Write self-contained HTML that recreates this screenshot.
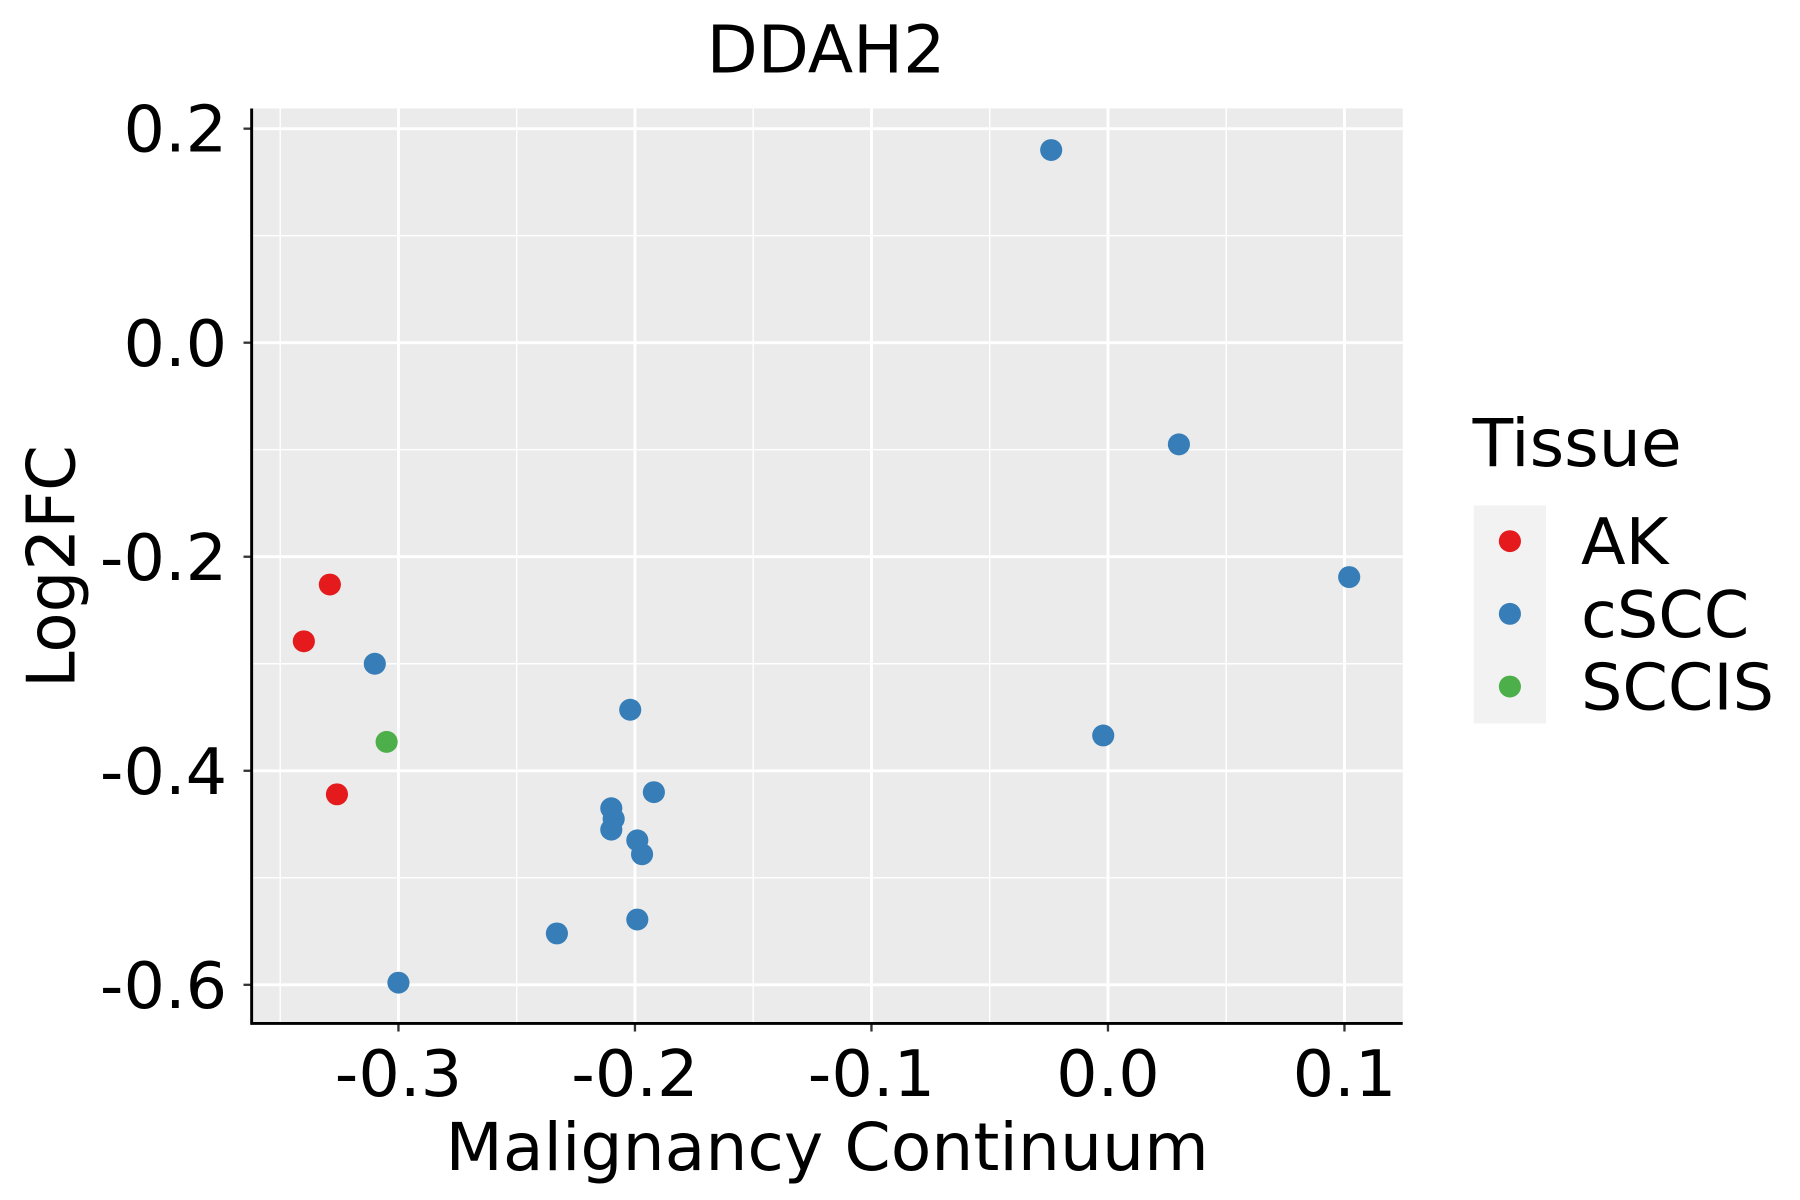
<!DOCTYPE html>
<html><head><meta charset="utf-8"><style>html,body{margin:0;padding:0;background:#fff}svg{display:block}text{font-family:"DejaVu Sans","Liberation Sans",sans-serif;fill:#000}</style></head>
<body>
<svg id="chart" width="1800" height="1200" viewBox="0 0 1545 1040" preserveAspectRatio="none" xmlns="http://www.w3.org/2000/svg">
<rect x="216" y="94" width="988" height="793" fill="#ebebeb"/>
<g id="grid"></g>
<g id="points"></g>
<g id="axes"></g>
<text x="709" y="63" font-size="57" text-anchor="middle">DDAH2</text>
<text x="710" y="1014" font-size="57" text-anchor="middle">Malignancy Continuum</text>
<text transform="translate(64,491) rotate(-90)" font-size="57" text-anchor="middle">Log2FC</text>
<g>
<text x="1264" y="404" font-size="57">Tissue</text>
<rect x="1265" y="438" width="62" height="189" fill="#f2f2f2"/>
<g id="legend-entries"></g>
</g>
</svg>
<script>
const xTicks = [-0.3, -0.2, -0.1, 0.0, 0.1];
const xTickLabels = ["-0.3", "-0.2", "-0.1", "0.0", "0.1"];
const yTicks = [0.2, 0.0, -0.2, -0.4, -0.6];
const yTickLabels = ["0.2", "0.0", "-0.2", "-0.4", "-0.6"];
const groups = ["AK", "cSCC", "SCCIS"];
const groupColors = ["#e41a1c", "#377eb8", "#4daf4a"];
const akX = [-0.329, -0.340, -0.326];
const akY = [-0.226, -0.279, -0.422];
const sccisX = [-0.305];
const sccisY = [-0.373];
const csccX = [-0.024, 0.030, 0.102, -0.002, -0.310, -0.202, -0.192, -0.210, -0.209, -0.210, -0.199, -0.197, -0.199, -0.233, -0.300];
const csccY = [0.180, -0.095, -0.219, -0.367, -0.300, -0.343, -0.420, -0.435, -0.445, -0.455, -0.465, -0.478, -0.539, -0.552, -0.598];

const NS = "http://www.w3.org/2000/svg";
const xScale = v => 951 + v * 2030;
const yScale = v => 297 - v * 927.5;
function mk(tag, attrs, parent) { const e = document.createElementNS(NS, tag); for (const k in attrs) e.setAttribute(k, attrs[k]); parent.appendChild(e); return e; }

const grid = document.getElementById('grid');
const axes = document.getElementById('axes');
for (let i = 0; i < xTicks.length - 1; i++) {
  const x = xScale((xTicks[i] + xTicks[i+1]) / 2);
  const l = mk('line', {x1: x, x2: x, y1: 94, y2: 887, stroke: '#fff', 'stroke-width': 1.2}, grid);
  
  
}
{ const x = xScale(xTicks[0] - 0.05); const l = mk('line', {x1: x, x2: x, y1: 94, y2: 887, stroke: '#fff', 'stroke-width': 1.2}, grid);
  
   }
for (let i = 0; i < yTicks.length - 1; i++) {
  const y = yScale((yTicks[i] + yTicks[i+1]) / 2);
  const l = mk('line', {x1: 216, x2: 1204, y1: y, y2: y, stroke: '#fff', 'stroke-width': 1.2}, grid);
  
  
}
xTicks.forEach((v, i) => {
  const x = xScale(v);
  const g = mk('line', {x1: x, x2: x, y1: 94, y2: 887, stroke: '#fff', 'stroke-width': 2.5}, grid);
  
  
  const t = mk('line', {x1: x, x2: x, y1: 887, y2: 894, stroke: '#333', 'stroke-width': 2}, axes);
  
  
  const lab = mk('text', {x: x, y: 950, 'font-size': 56, 'text-anchor': 'middle'}, axes);
  lab.textContent = xTickLabels[i];
  
  
});
yTicks.forEach((v, i) => {
  const y = yScale(v);
  const g = mk('line', {x1: 216, x2: 1204, y1: y, y2: y, stroke: '#fff', 'stroke-width': 2.5}, grid);
  
  
  const t = mk('line', {x1: 209, x2: 216, y1: y, y2: y, stroke: '#333', 'stroke-width': 2}, axes);
  
  
  const lab = mk('text', {x: 195, y: y + 20, 'font-size': 56, 'text-anchor': 'end'}, axes);
  lab.textContent = yTickLabels[i];
  
  
});
const xa = mk('line', {x1: 215, x2: 1204, y1: 887, y2: 887, stroke: '#000', 'stroke-width': 2.5}, axes);


const ya = mk('line', {x1: 216, x2: 216, y1: 94, y2: 888, stroke: '#000', 'stroke-width': 2.5}, axes);



const pts = document.getElementById('points');
const series = [[akX, akY, 0], [csccX, csccY, 1], [sccisX, sccisY, 2]];
series.forEach(([xs, ys, gi]) => {
  xs.forEach((xv, i) => {
    const c = mk('circle', {cx: xScale(xv), cy: yScale(ys[i]), r: 9.5, fill: groupColors[gi]}, pts);
    
    
  });
});

const le = document.getElementById('legend-entries');
groups.forEach((g, i) => {
  const y = 469 + i * 63;
  const c = mk('circle', {cx: 1296, cy: y, r: 9.5, fill: groupColors[i]}, le);
  
  
  const t = mk('text', {x: 1357, y: y + 20, 'font-size': 56}, le);
  t.textContent = g;
  
  
});
</script>
</body></html>
